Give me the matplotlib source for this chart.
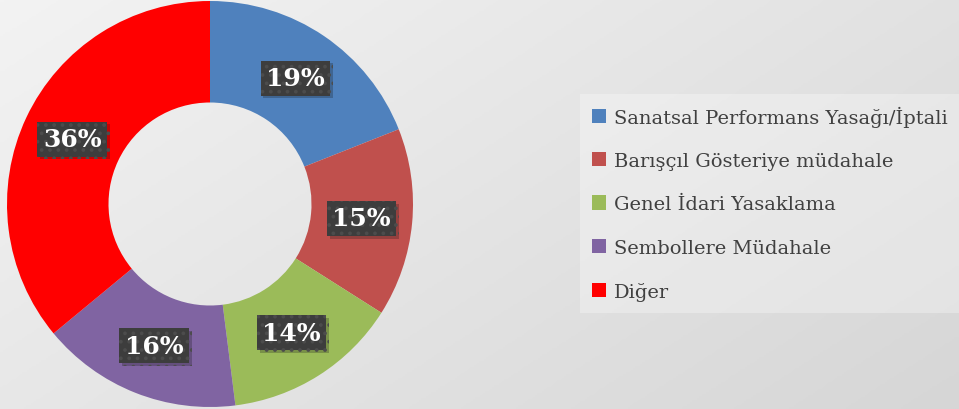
import matplotlib
matplotlib.use("Agg")
import matplotlib.pyplot as plt
import matplotlib.patheffects as pe
import numpy as np

# data
categories = ["Sanatsal Performans Yasağı/İptali", "Barışçıl Gösteriye müdahale",
              "Genel İdari Yasaklama", "Sembollere Müdahale", "Diğer"]
shares = [19, 15, 14, 16, 36]
colors = ["#4F81BD", "#C0504D", "#9BBB59", "#8064A2", "#FF0000"]

plt.rcParams['font.family'] = ['DejaVu Serif']
plt.rcParams['hatch.linewidth'] = 1.5

W, H = 959, 410
fig = plt.figure(figsize=(W / 100, H / 100), dpi=100)

# gradient background
bg = fig.add_axes([0, 0, 1, 1], zorder=-10)
yy, xx = np.mgrid[0:1:200j, 0:1:400j]
grad = 0.6 * xx + 0.4 * yy
bg.imshow(grad, cmap=matplotlib.colors.LinearSegmentedColormap.from_list(
    "bg", ["#f3f3f3", "#d6d6d6"]), aspect="auto", extent=[0, 1, 0, 1], origin="upper")
bg.set_axis_off()

# donut
cx, cy, r = 210, 205, 203
ax = fig.add_axes([(cx - 205) / W, (H - cy - 205) / H, 410 / W, 410 / H])
wedges, _, autotexts = ax.pie(shares, colors=colors, startangle=90, counterclock=False,
                              radius=1, autopct="%1.0f%%", pctdistance=0.75,
                              wedgeprops=dict(width=0.5, edgecolor="none"))
lim = 205 / r
ax.set_xlim(-lim, lim)
ax.set_ylim(-lim, lim)
ax.set_aspect("equal")
ax.set_axis_off()

for t in autotexts:
    t.set_color("white")
    t.set_fontweight("bold")
    t.set_fontsize(18)
    t.set_bbox(dict(boxstyle="square,pad=0.22", facecolor="#3d3d3d",
                    edgecolor="#4c4c4c", linewidth=0, hatch=".."))
    t.get_bbox_patch().set_path_effects(
        [pe.SimplePatchShadow(offset=(2, -2), alpha=0.25), pe.Normal()])

# legend
leg = fig.legend(wedges, categories, loc="upper left",
                 bbox_to_anchor=(580 / W, 1 - 95 / H), borderaxespad=0, frameon=True,
                 fontsize=14, labelspacing=1.3, handlelength=0.75, handleheight=0.75,
                 handletextpad=0.4, borderpad=0.6)
fr = leg.get_frame()
fr.set_facecolor("white")
fr.set_alpha(0.3)
fr.set_edgecolor("none")
fr.set_boxstyle("square,pad=0")
for txt in leg.get_texts():
    txt.set_color("#404040")

fig.savefig("out.png", dpi=100)
